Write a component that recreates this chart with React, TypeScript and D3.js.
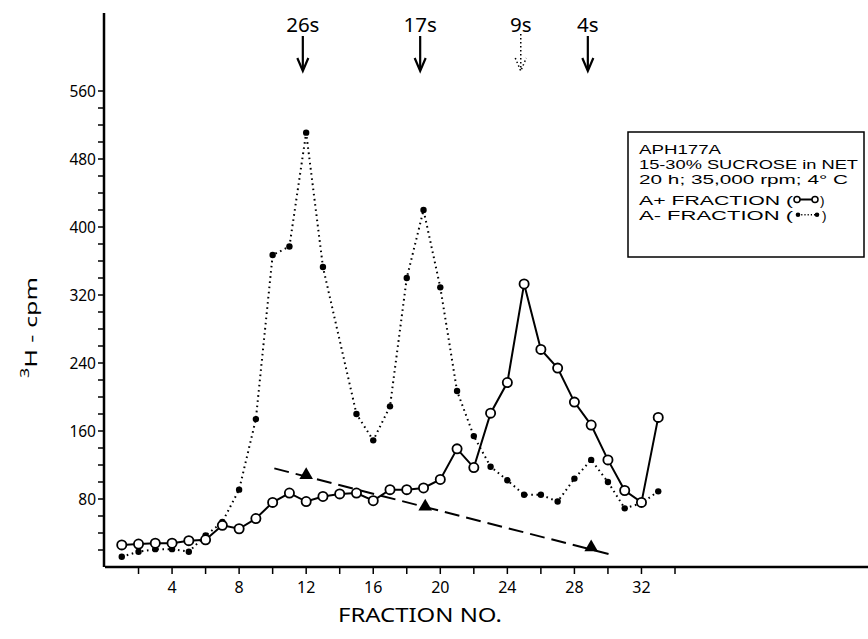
import * as d3 from 'd3';
import React, { useRef, useEffect } from 'react';

// fraction numbers and 3H counts
const plusFractions = [1, 2, 3, 4, 5, 6, 7, 8, 9, 10, 11, 12, 13, 14, 15, 16, 17, 18, 19, 20, 21, 22, 23, 24, 25, 26, 27, 28, 29, 30, 31, 32, 33];
const plusCpm = [26, 27, 28, 28, 31, 32, 49, 45, 57, 76, 87, 77, 83, 86, 87, 78, 91, 91, 93, 103, 139, 117, 181, 217, 333, 256, 234, 194, 167, 126, 90, 76, 176];

const minusFractions = [1, 2, 3, 4, 5, 6, 7, 8, 9, 10, 11, 12, 13, 15, 16, 17, 18, 19, 20, 21, 22, 23, 24, 25, 26, 27, 28, 29, 30, 31, 32, 33];
const minusCpm = [12, 18, 21, 21, 18, 37, 53, 91, 174, 367, 377, 511, 353, 180, 149, 189, 340, 420, 329, 207, 154, 118, 102, 85, 85, 77, 104, 126, 100, 69, 75, 89];

const markerFractions = [12, 19.1, 29];
const markerCpm = [107, 70, 22];
const dashFractions = [10.1, 30.1];
const dashCpm = [116, 15];

const arrowFractions = [11.8, 18.8, 24.8, 28.8];
const arrowLabels = ['26s', '17s', '9s', '4s'];
const arrowDotted = [false, false, true, false];

const yTicks = [20, 40, 60, 80, 100, 120, 140, 160, 180, 200, 220, 240, 260, 280, 300, 320, 340, 360, 380, 400, 420, 440, 460, 480, 500, 520, 540, 560];
const yLabels = [80, 160, 240, 320, 400, 480, 560];
const xTicks = [2, 4, 6, 8, 10, 12, 14, 16, 18, 20, 22, 24, 26, 28, 30, 32, 34];
const xLabels = [4, 8, 12, 16, 20, 24, 28, 32];

const legendLines = ['APH177A', '15-30% SUCROSE in NET', '20 h;  35,000 rpm; 4° C'];
const legendSeries = ['A+ FRACTION (', 'A- FRACTION ('];

const FONT = '"Noto Sans", "DejaVu Sans", sans-serif';
const LEGEND_FONT = '"Liberation Sans", Arial, sans-serif';

function App() {
  const ref = useRef(null);
  const width = 868;
  const height = 639;

  useEffect(() => {
    const svg = d3.select(ref.current);
    svg.selectAll('*').remove();

    const x = d3.scaleLinear().domain([0, 34]).range([105, 675]);
    const y = d3.scaleLinear().domain([0, 560]).range([567, 91]);
    const x0 = x(0);
    const y0 = y(0);

    // axes
    svg.append('line')
      .attr('x1', x0).attr('x2', width).attr('y1', y0).attr('y2', y0)
      .attr('stroke', '#000').attr('stroke-width', 2.5);
    svg.append('line')
      .attr('x1', x0 - 1).attr('x2', x0 - 1).attr('y1', 13).attr('y2', y0)
      .attr('stroke', '#000').attr('stroke-width', 2.5);

    svg.selectAll('.ytick').data(yTicks).enter().append('line')
      .attr('x1', x0 - 7).attr('x2', x0 - 1)
      .attr('y1', (d) => y(d)).attr('y2', (d) => y(d))
      .attr('stroke', '#000').attr('stroke-width', 1.5);
    svg.selectAll('.ylab').data(yLabels).enter().append('text')
      .attr('x', x0 - 9).attr('y', (d) => y(d) + 5.5)
      .attr('text-anchor', 'end')
      .attr('font-family', FONT).attr('font-size', 15.5)
      .text((d) => d);

    svg.selectAll('.xtick').data(xTicks).enter().append('line')
      .attr('x1', (d) => x(d)).attr('x2', (d) => x(d))
      .attr('y1', y0).attr('y2', y0 + 7)
      .attr('stroke', '#000').attr('stroke-width', 1.5);
    svg.selectAll('.xlab').data(xLabels).enter().append('text')
      .attr('x', (d) => x(d)).attr('y', 593)
      .attr('text-anchor', 'middle')
      .attr('font-family', FONT).attr('font-size', 16)
      .text((d) => d);

    svg.append('text')
      .attr('x', 338).attr('y', 622)
      .attr('font-family', FONT).attr('font-size', 19)
      .attr('textLength', 164).attr('lengthAdjust', 'spacingAndGlyphs')
      .text('FRACTION NO.');

    const ylab = svg.append('text')
      .attr('transform', 'translate(37,378) rotate(-90)')
      .attr('font-family', FONT).attr('font-size', 17)
      .attr('textLength', 101).attr('lengthAdjust', 'spacingAndGlyphs');
    ylab.append('tspan').attr('font-size', 12).attr('dy', -8).text('3');
    ylab.append('tspan').attr('dy', 8).text('H  -  cpm');

    // dashed baseline with triangles
    svg.append('line')
      .attr('x1', x(dashFractions[0])).attr('y1', y(dashCpm[0]))
      .attr('x2', x(dashFractions[1])).attr('y2', y(dashCpm[1]))
      .attr('stroke', '#000').attr('stroke-width', 2)
      .attr('stroke-dasharray', '15 7');
    const tri = d3.symbol().type(d3.symbolTriangle).size(80);
    svg.selectAll('.tri').data(markerFractions).enter().append('path')
      .attr('d', tri)
      .attr('transform', (d, i) => `translate(${x(d)},${y(markerCpm[i]) - 1})`)
      .attr('fill', '#000');

    // A- fraction, dotted
    const minusPts = minusFractions.map((f, i) => [f, minusCpm[i]]);
    const line = d3.line().x((d) => x(d[0])).y((d) => y(d[1]));
    svg.append('path')
      .attr('d', line(minusPts))
      .attr('fill', 'none').attr('stroke', '#000').attr('stroke-width', 2)
      .attr('stroke-dasharray', '1.6 3.6');
    svg.selectAll('.mdot').data(minusPts).enter().append('circle')
      .attr('cx', (d) => x(d[0])).attr('cy', (d) => y(d[1]))
      .attr('r', 3.2).attr('fill', '#000');

    // A+ fraction, solid with open circles
    const plusPts = plusFractions.map((f, i) => [f, plusCpm[i]]);
    svg.append('path')
      .attr('d', line(plusPts))
      .attr('fill', 'none').attr('stroke', '#000').attr('stroke-width', 2);
    svg.selectAll('.pdot').data(plusPts).enter().append('circle')
      .attr('cx', (d) => x(d[0])).attr('cy', (d) => y(d[1]))
      .attr('r', 4.6).attr('fill', '#fff')
      .attr('stroke', '#000').attr('stroke-width', 1.8);

    // sedimentation markers
    arrowFractions.forEach((f, i) => {
      const ax = x(f);
      const g = svg.append('g');
      g.append('text')
        .attr('x', ax).attr('y', 32)
        .attr('text-anchor', 'middle')
        .attr('font-family', FONT).attr('font-size', 20.5)
        .text(arrowLabels[i]);
      const dash = arrowDotted[i] ? '1.5 2.5' : null;
      const w = arrowDotted[i] ? 1.5 : 2.2;
      g.append('line')
        .attr('x1', ax).attr('x2', ax)
        .attr('y1', arrowDotted[i] ? 34 : 36).attr('y2', 70)
        .attr('stroke', '#000').attr('stroke-width', w)
        .attr('stroke-dasharray', dash);
      g.append('path')
        .attr('d', `M${ax - 5.5},${58} L${ax},${71} L${ax + 5.5},${58}`)
        .attr('fill', 'none').attr('stroke', '#000').attr('stroke-width', w)
        .attr('stroke-dasharray', dash);
    });

    // legend box
    const lg = svg.append('g');
    lg.append('rect')
      .attr('x', 628).attr('y', 132).attr('width', 236).attr('height', 125)
      .attr('fill', '#fff').attr('stroke', '#000').attr('stroke-width', 1.5);
    const lineLens = [82, 219, 209];
    legendLines.forEach((t, i) => {
      lg.append('text')
        .attr('x', 639).attr('y', 153.5 + i * 15.2)
        .attr('font-family', LEGEND_FONT).attr('font-size', 13.5)
        .attr('textLength', lineLens[i]).attr('lengthAdjust', 'spacingAndGlyphs')
        .text(t);
    });
    legendSeries.forEach((t, i) => {
      const by = 204.5 + i * 15.2;
      lg.append('text')
        .attr('x', 639).attr('y', by)
        .attr('font-family', LEGEND_FONT).attr('font-size', 13.5)
        .attr('textLength', 154).attr('lengthAdjust', 'spacingAndGlyphs')
        .text(t);
      lg.append('text')
        .attr('x', i === 0 ? 820 : 822).attr('y', by)
        .attr('font-family', LEGEND_FONT).attr('font-size', 13.5)
        .text(')');
      const cy = by - 5;
      if (i === 0) {
        lg.append('line').attr('x1', 797).attr('x2', 815).attr('y1', cy).attr('y2', cy)
          .attr('stroke', '#000').attr('stroke-width', 2);
        [797, 815].forEach((cx) => lg.append('circle')
          .attr('cx', cx).attr('cy', cy).attr('r', 3)
          .attr('fill', '#fff').attr('stroke', '#000').attr('stroke-width', 1.5));
      } else {
        lg.append('line').attr('x1', 798).attr('x2', 817).attr('y1', cy).attr('y2', cy)
          .attr('stroke', '#000').attr('stroke-width', 1.5).attr('stroke-dasharray', '1.2 2');
        [798, 817].forEach((cx) => lg.append('circle')
          .attr('cx', cx).attr('cy', cy).attr('r', 2.3).attr('fill', '#000'));
      }
    });
  }, []);

  return (
    <svg ref={ref} width={width} height={height}
      style={{ position: 'absolute', left: 0, top: 0, background: '#fff' }}>
    </svg>
  );
}

export default App;
